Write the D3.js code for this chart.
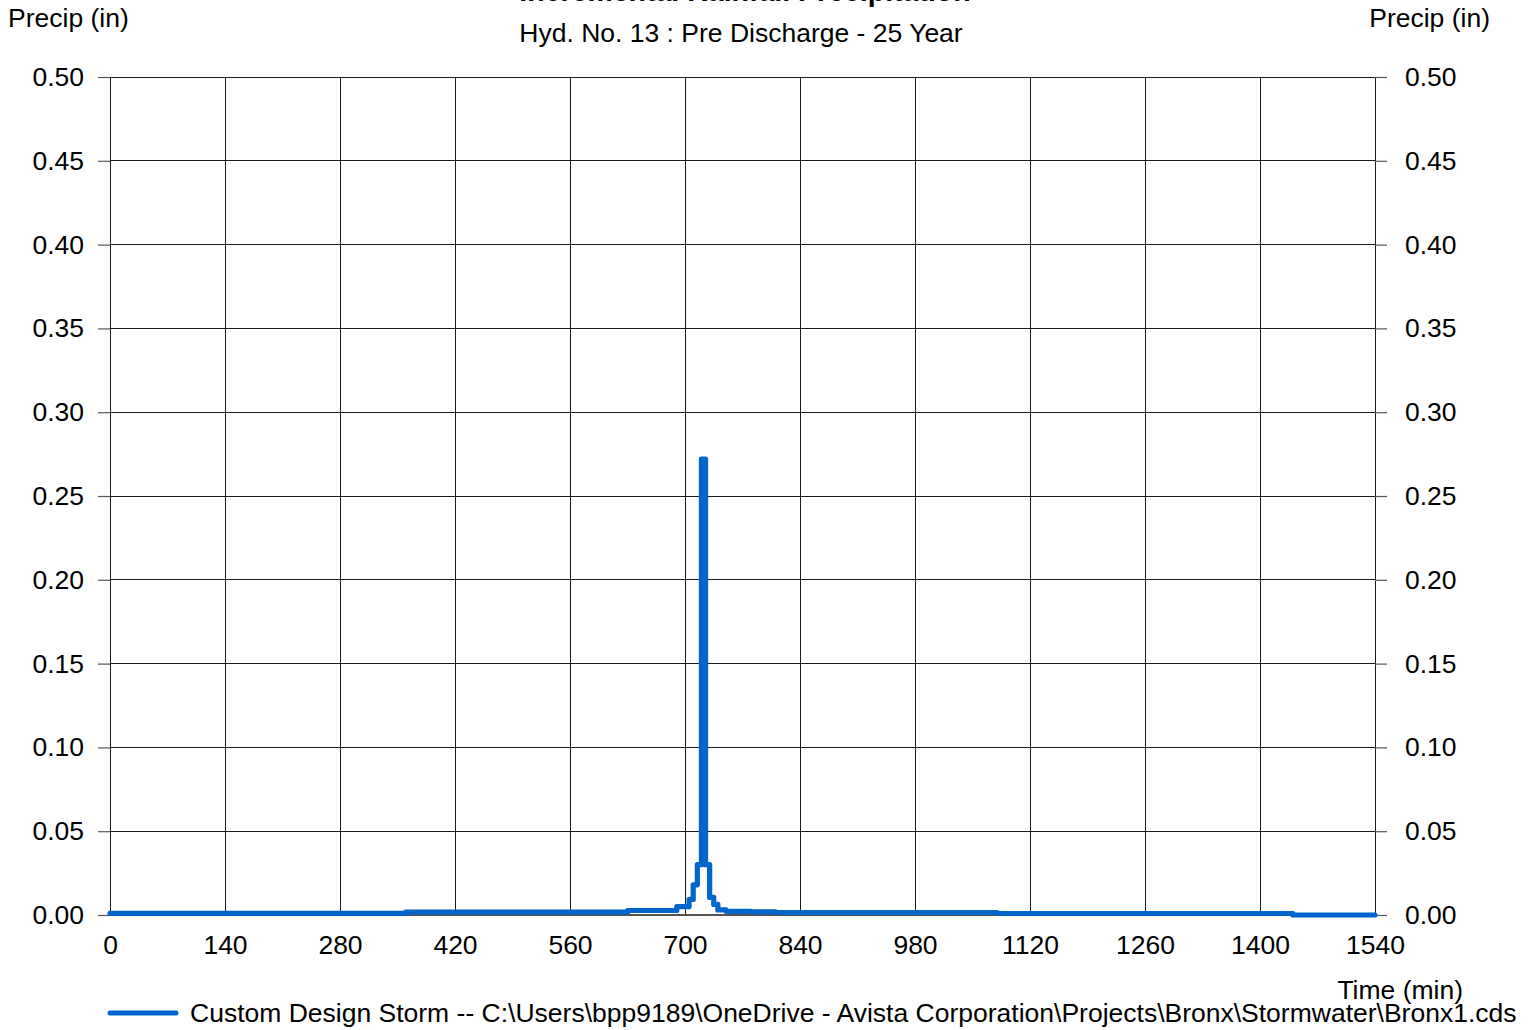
<!DOCTYPE html>
<html>
<head>
<meta charset="utf-8">
<script src="https://cdn.jsdelivr.net/npm/d3@7"></script>
<style>
  html, body { margin: 0; padding: 0; background: #fff; }
  svg { display: block; font-family: "Liberation Sans", Arial, sans-serif; }
</style>
</head>
<body>
<svg id="chart" width="1538" height="1030"></svg>
<script>
// Rainfall increments: each value holds from its start time until the next start time.
const stepStart = [0, 360, 630, 690, 705, 710, 715, 720, 725, 730, 735, 740, 750, 780, 810, 1080, 1440, 1540];
const precipIn  = [0.0010, 0.0017, 0.0027, 0.0050, 0.0093, 0.018, 0.030, 0.272, 0.030, 0.0105, 0.0063, 0.0030, 0.0022, 0.0019, 0.0015, 0.0009, 0.0, 0.0];

const xTicks = [0, 140, 280, 420, 560, 700, 840, 980, 1120, 1260, 1400, 1540];
const yTicks = [0, 0.05, 0.10, 0.15, 0.20, 0.25, 0.30, 0.35, 0.40, 0.45, 0.50];

const titleText = "Incremental Rainfall Precipitation";
const subtitleText = "Hyd. No. 13 : Pre Discharge - 25 Year";
const yLabel = "Precip (in)";
const xLabel = "Time (min)";
const legendText = "Custom Design Storm -- C:\\Users\\bpp9189\\OneDrive - Avista Corporation\\Projects\\Bronx\\Stormwater\\Bronx1.cds";

const svg = d3.select("#chart");
const plot = { left: 110, right: 1375, top: 77, bottom: 915 };
const lineColor = "#0066cc";
const fontSize = 26.5;

const x = d3.scaleLinear().domain([0, 1540]).range([plot.left, plot.right]);
const y = d3.scaleLinear().domain([0, 0.5]).range([plot.bottom, plot.top]);

// Grid
const grid = svg.append("g");
grid.selectAll("line.v").data(xTicks).enter().append("line")
  .attr("x1", d => x(d)).attr("x2", d => x(d))
  .attr("y1", plot.top).attr("y2", plot.bottom)
  .attr("stroke", "#1a1a1a").attr("stroke-width", 1).attr("shape-rendering", "crispEdges");
grid.selectAll("line.h").data(yTicks).enter().append("line")
  .attr("x1", plot.left).attr("x2", plot.right)
  .attr("y1", d => y(d)).attr("y2", d => y(d))
  .attr("stroke", d => d === 0 ? "#555" : "#1a1a1a").attr("stroke-width", d => d === 0 ? 1.5 : 1)
  .attr("shape-rendering", "crispEdges");

// Left axis
const leftAxis = d3.axisLeft(y).tickValues(yTicks).tickFormat(d3.format(".2f")).tickSize(12).tickPadding(14);
const gl = svg.append("g").attr("transform", `translate(${plot.left},0)`).call(leftAxis);
// Right axis
const rightAxis = d3.axisRight(y).tickValues(yTicks).tickFormat(d3.format(".2f")).tickSize(12).tickPadding(18);
const gr = svg.append("g").attr("transform", `translate(${plot.right},0)`).call(rightAxis);
// Bottom axis (labels only; vertical grid carries the ticks)
const bottomAxis = d3.axisBottom(x).tickValues(xTicks).tickFormat(d3.format("d")).tickSize(0).tickPadding(20);
const gb = svg.append("g").attr("transform", `translate(0,${plot.bottom})`).call(bottomAxis);

[gl, gr, gb].forEach(g => {
  g.select(".domain").remove();
  g.selectAll(".tick line").attr("stroke", "#555").attr("stroke-width", 1.2);
  g.selectAll(".tick text").attr("fill", "#000").style("font-size", fontSize + "px")
    .style("font-family", '"Liberation Sans", Arial, sans-serif');
});

// Precipitation series
const series = stepStart.map((t, i) => ({ t, v: precipIn[i] }));
const line = d3.line().x(d => x(d.t)).y(d => y(d.v)).curve(d3.curveStepAfter);
svg.append("path").datum(series)
  .attr("d", line)
  .attr("fill", "none")
  .attr("stroke", lineColor)
  .attr("stroke-width", 5.2)
  .attr("stroke-linejoin", "round")
  .attr("stroke-linecap", "round");

// Titles and axis labels
const txt = (s, xp, yp, anchor, extra) => {
  const t = svg.append("text").attr("x", xp).attr("y", yp).attr("text-anchor", anchor)
    .style("font-size", fontSize + "px").attr("fill", "#000").text(s);
  if (extra) extra(t);
  return t;
};
txt(titleText, 745, 1, "middle", t => t.style("font-weight", "bold").style("font-size", "28.5px"));
txt(subtitleText, 741, 42, "middle");
txt(yLabel, 8, 27, "start");
txt(yLabel, 1490, 27, "end");
txt(xLabel, 1463, 999, "end");

// Legend
svg.append("line").attr("x1", 110).attr("x2", 176).attr("y1", 1013).attr("y2", 1013)
  .attr("stroke", lineColor).attr("stroke-width", 5).attr("stroke-linecap", "round");
txt(legendText, 190, 1022, "start");
</script>
</body>
</html>
